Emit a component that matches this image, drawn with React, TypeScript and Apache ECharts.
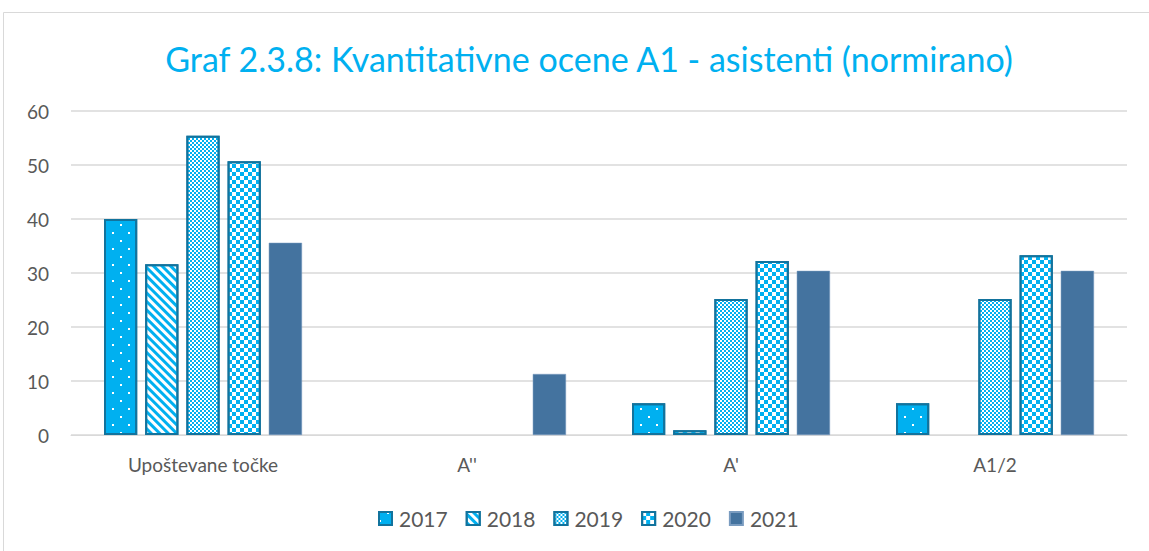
import React, { useEffect, useRef } from "react";
import * as echarts from "echarts";

const categories = ["Upoštevane točke", "A''", "A'", "A1/2"];
const years = ["2017", "2018", "2019", "2020", "2021"];
const v2017 = [40.0, 0, 5.9, 5.9];
const v2018 = [31.6, 0, 0.9, 0];
const v2019 = [55.4, 0, 25.2, 25.2];
const v2020 = [50.7, 0, 32.2, 33.3];
const v2021 = [35.6, 11.3, 30.4, 30.4];
const yTicks = [0, 10, 20, 30, 40, 50, 60];

const BLUE = "#00B0F0";
const EDGE = "#12739D";
const FONT = "Lato, 'Noto Sans', sans-serif";

export default function App() {
  const ref = useRef<HTMLDivElement>(null);
  useEffect(() => {
    const chart = echarts.init(ref.current!, undefined, { renderer: "svg" });
    const decals: any[] = [
      { symbol: "rect", symbolSize: 1, color: "#ffffff", backgroundColor: BLUE, dashArrayX: [[2, 14], [0, 8, 2, 6]], dashArrayY: [2, 6] },
      { symbol: "rect", symbolSize: 1, color: BLUE, dashArrayX: [1, 0], dashArrayY: [3, 3], rotation: Math.PI / 4 },
      { symbol: "rect", symbolSize: 1, color: BLUE, dashArrayX: [[2, 2], [0, 2, 2, 0]], dashArrayY: [2, 0] },
      { symbol: "rect", symbolSize: 1, color: BLUE, dashArrayX: [[4, 4], [0, 4, 4, 0]], dashArrayY: [4, 0] },
    ];
    const vals = [v2017, v2018, v2019, v2020, v2021];
    const series = years.map((y, i) => ({
      name: y,
      type: "bar",
      data: vals[i].map((v) => (v === 0 ? { value: v, itemStyle: { borderWidth: 0, opacity: 0 } } : v)),
      barGap: "24%",
      barCategoryGap: "25%",
      itemStyle:
        i < 4
          ? { color: i === 0 ? BLUE : "#ffffff", borderColor: EDGE, borderWidth: 2, decal: decals[i] }
          : { color: "#44739F", borderColor: "#7A9CC0", borderWidth: 0.5 },
    }));
    chart.setOption({
      animation: false,
      aria: { enabled: true, decal: { show: false } },
      title: {
        text: "Graf 2.3.8: Kvantitativne ocene A1 - asistenti (normirano)",
        left: 584,
        textAlign: "center",
        top: 36,
        textStyle: { color: BLUE, fontSize: 34, fontWeight: "normal", fontFamily: FONT },
      },
      graphic: [
        { type: "rect", shape: { x: 3.5, y: 12.5, width: 1150, height: 545 }, style: { fill: "none", stroke: "#D9D9D9", lineWidth: 1 }, silent: true },
      ],
      grid: { left: 71, right: 22, top: 111, bottom: 116 },
      legend: {
        bottom: 17,
        left: 373,
        icon: "rect",
        itemWidth: 13,
        itemHeight: 13,
        itemGap: 18,
        textStyle: { color: "#595959", fontSize: 21, fontFamily: FONT, padding: [0, 0, 0, 2] },
        data: years,
      },
      xAxis: {
        type: "category",
        data: categories,
        axisLine: { lineStyle: { color: "#D9D9D9" } },
        axisTick: { show: false },
        axisLabel: { color: "#595959", fontSize: 19, fontFamily: FONT, margin: 20 },
      },
      yAxis: {
        type: "value",
        min: yTicks[0],
        max: yTicks[yTicks.length - 1],
        interval: 10,
        axisLine: { show: false },
        axisTick: { show: false },
        splitLine: { lineStyle: { color: "#D9D9D9", width: 1.5 } },
        axisLabel: { color: "#595959", fontSize: 19, fontFamily: FONT, margin: 22 },
      },
      series,
    });
    return () => chart.dispose();
  }, []);
  return <div ref={ref} style={{ position: "fixed", left: 0, top: 0, width: 1149, height: 551, background: "#fff" }} />;
}
